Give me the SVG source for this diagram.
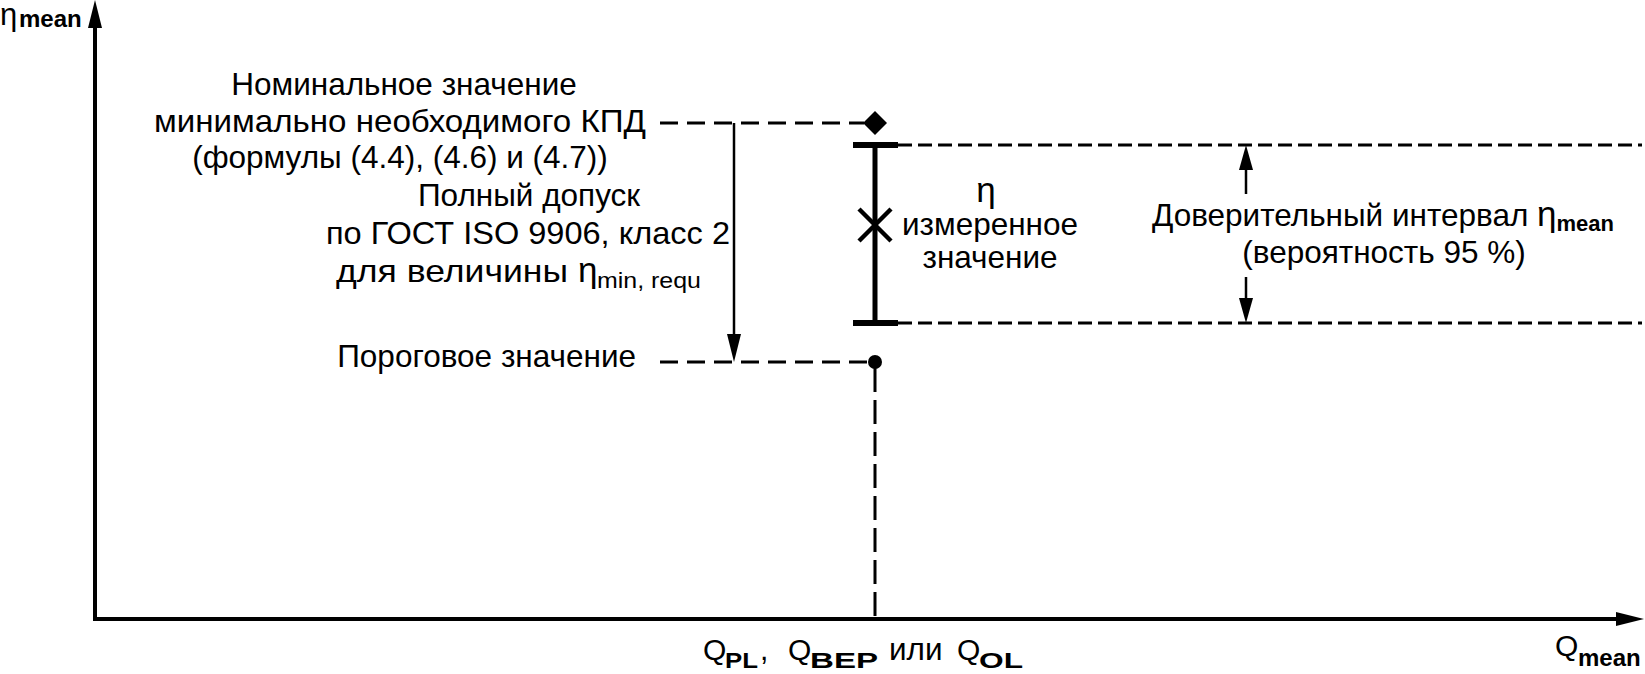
<svg xmlns="http://www.w3.org/2000/svg" width="1645" height="674" viewBox="0 0 1645 674">
<style>
text{font-family:"Liberation Sans",Arial,sans-serif;fill:#000}
.t{font-size:31.5px}
.c{text-anchor:middle}
.eta{font-size:35px}
.sub{font-size:22px}
.subb{font-size:22px;font-weight:bold}
.q{font-size:30px}
.ax{stroke:#000;stroke-width:4;fill:none}
.dl{stroke:#000;stroke-width:3;stroke-dasharray:18 9;fill:none}
.dr{stroke:#000;stroke-width:3;stroke-dasharray:14 6;fill:none}
.dv{stroke:#000;stroke-width:3;stroke-dasharray:24 8;fill:none}
.thin{stroke:#000;stroke-width:2.5;fill:none}
.bar{stroke:#000;stroke-width:5;fill:none}
</style>
<rect width="1645" height="674" fill="#fff"/>

<g id="axes">
<line class="ax" x1="95" y1="621" x2="95" y2="25"/>
<polygon points="95,0 88,28 102,28" fill="#000"/>
<line class="ax" x1="93" y1="619" x2="1618" y2="619"/>
<polygon points="1644,619 1616,612 1616,626" fill="#000"/>
<text x="0" y="25" style="font-size:31px">η</text>
<text x="19" y="27" class="subb" style="font-size:24px">mean</text>
<text x="1555" y="656" class="q">Q</text>
<text x="1578" y="666" class="subb" style="font-size:24px">mean</text>
</g>

<g id="connectors">
<line class="dl" x1="660" y1="123" x2="864" y2="123"/>
<line class="dl" x1="660" y1="362" x2="868" y2="362"/>
<line class="dv" x1="875" y1="368" x2="875" y2="619"/>
<line class="dr" x1="898" y1="145" x2="1642" y2="145"/>
<line class="dr" x1="898" y1="323" x2="1642" y2="323"/>
<line class="thin" x1="734" y1="123" x2="734" y2="336"/>
<polygon points="734,362 727,334 741,334" fill="#000"/>
<line class="thin" x1="1246" y1="194" x2="1246" y2="168"/>
<polygon points="1246,145 1239,170 1253,170" fill="#000"/>
<line class="thin" x1="1246" y1="277" x2="1246" y2="300"/>
<polygon points="1246,323 1239,298 1253,298" fill="#000"/>
</g>

<g id="nominal">
<polygon points="875,111 887,123 875,135 863,123" fill="#000"/>
<text class="t c" x="404" y="95">Номинальное значение</text>
<text class="t c" x="400" y="132" textLength="492" lengthAdjust="spacingAndGlyphs">минимально необходимого КПД</text>
<text class="t c" x="400" y="168">(формулы (4.4), (4.6) и (4.7))</text>
</g>

<g id="tolerance">
<text class="t c" x="529" y="206">Полный допуск</text>
<text class="t c" x="528" y="244" textLength="404" lengthAdjust="spacingAndGlyphs">по ГОСТ ISO 9906, класс 2</text>
<text class="t" x="336" y="282" textLength="232" lengthAdjust="spacingAndGlyphs">для величины</text>
<text class="eta" x="578" y="282">η</text>
<text class="sub" x="597" y="288" textLength="104" lengthAdjust="spacingAndGlyphs">min, requ</text>
</g>

<g id="threshold">
<circle cx="875" cy="362" r="7" fill="#000"/>
<text class="t" x="636" y="367" text-anchor="end">Пороговое значение</text>
</g>

<g id="measured">
<line class="bar" x1="875" y1="145" x2="875" y2="323"/>
<line class="bar" x1="853" y1="145" x2="898" y2="145" style="stroke-width:6"/>
<line class="bar" x1="853" y1="323" x2="898" y2="323" style="stroke-width:6"/>
<line class="bar" x1="859" y1="209" x2="891" y2="241" style="stroke-width:4.5"/>
<line class="bar" x1="891" y1="209" x2="859" y2="241" style="stroke-width:4.5"/>
<text class="eta c" x="986" y="202">η</text>
<text class="t c" x="990" y="235">измеренное</text>
<text class="t c" x="990" y="268">значение</text>
</g>

<g id="confidence">
<text class="t c" x="1383" y="226">Доверительный интервал <tspan class="eta">η</tspan><tspan class="subb" dy="5">mean</tspan></text>
<text class="t c" x="1384" y="263">(вероятность 95 %)</text>
</g>

<g id="qlabel">
<text class="q" x="703" y="660">Q</text>
<text class="subb" x="725" y="668" textLength="33" lengthAdjust="spacingAndGlyphs">PL</text>
<text class="q" x="760" y="660">,</text>
<text class="q" x="788" y="660">Q</text>
<text class="subb" x="810" y="668" textLength="68" lengthAdjust="spacingAndGlyphs">BEP</text>
<text class="t" x="889" y="660">или</text>
<text class="q" x="957" y="660">Q</text>
<text class="subb" x="979" y="668" textLength="44" lengthAdjust="spacingAndGlyphs">OL</text>
</g>
</svg>
